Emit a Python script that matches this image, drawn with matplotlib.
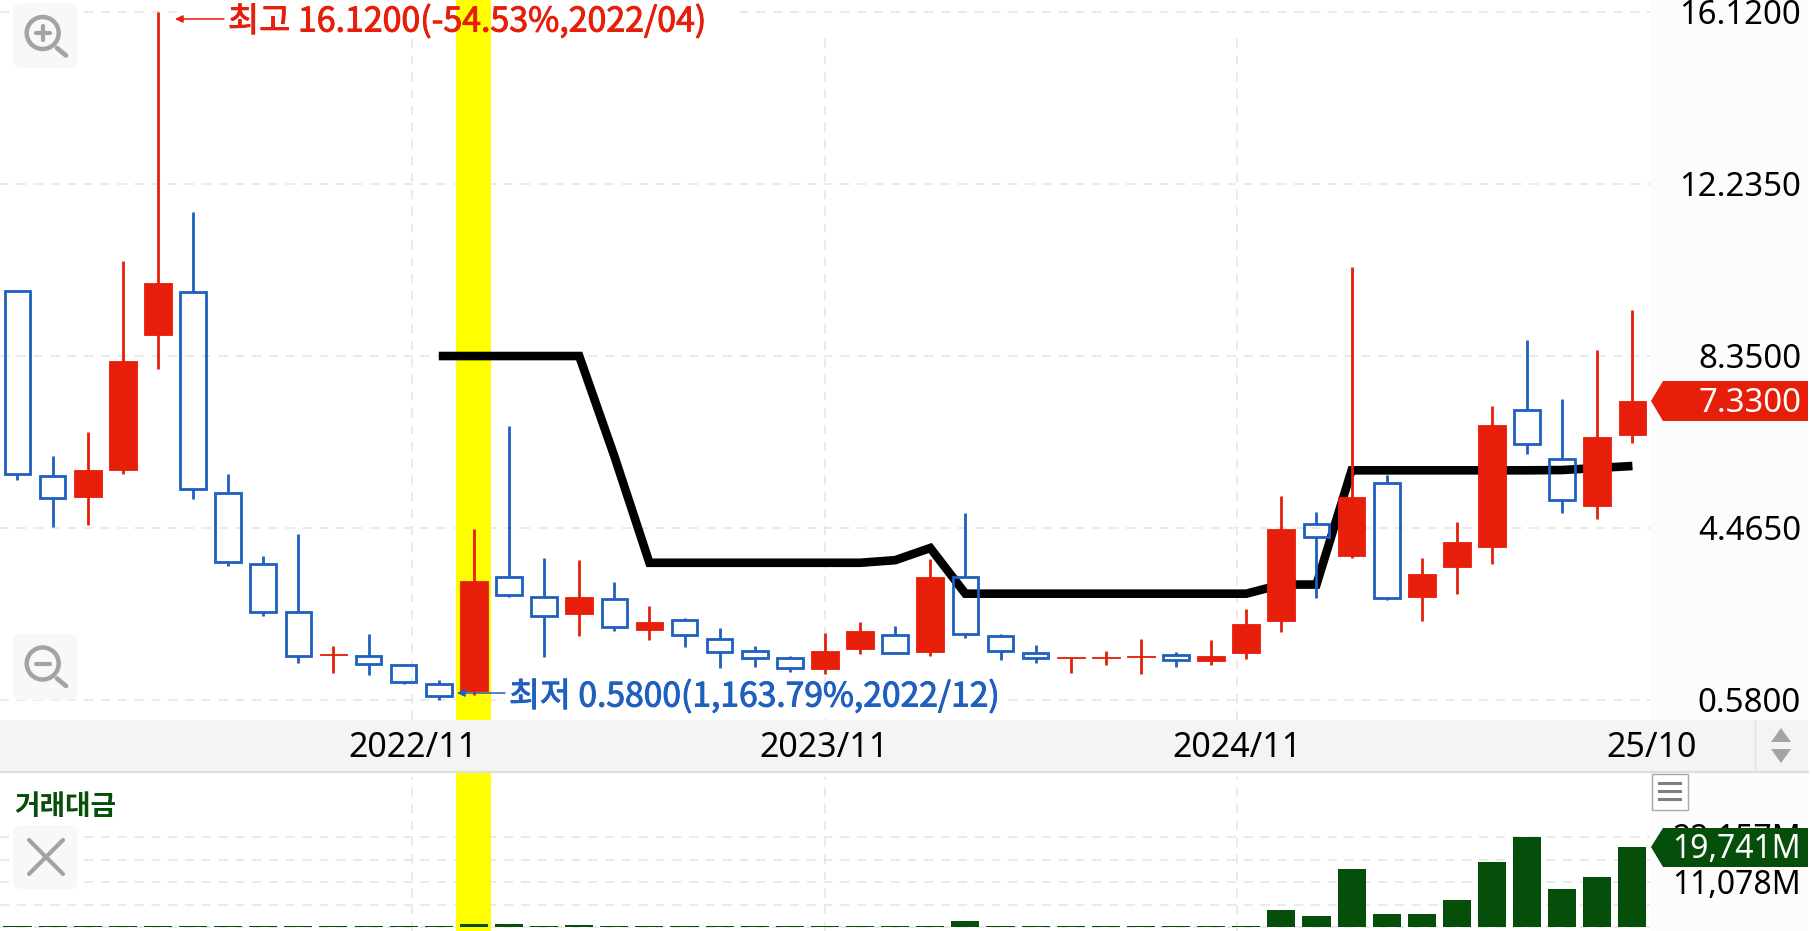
import matplotlib
matplotlib.use("Agg")
import matplotlib.pyplot as plt
import matplotlib.patheffects as pe
from matplotlib.patches import Rectangle, Polygon, FancyBboxPatch, Circle

W, H = 1812, 931
RED = "#e61e0a"; BLUE = "#1e5fc0"; GREEN = "#054f0b"; GRID = "#e4e4e4"; GRAY = "#a3a3a3"
KR = ["Noto Sans CJK KR", "DejaVu Sans"]
LAT = ["Noto Sans", "DejaVu Sans"]

# monthly candles, 2021/12 .. 2025/10
opens = [9.826, 5.643, 5.162, 5.781, 8.832, 9.796, 5.261, 3.655, 2.569, 1.590, 1.574, 1.368,
         0.932, 0.779, 3.349, 2.913, 2.515, 2.859, 2.171, 2.377, 1.949, 1.696, 1.536, 1.283,
         1.727, 2.056, 1.658, 3.356, 2.033, 1.643, 1.520, 1.520, 1.550, 1.589, 1.452, 1.651,
         2.370, 4.565, 3.831, 5.475, 2.914, 3.577, 4.044, 7.131, 6.024, 4.962, 6.558]
closes = [5.689, 5.139, 5.774, 8.237, 10.007, 5.353, 3.708, 2.561, 1.566, 1.620, 1.383, 0.993,
          0.679, 3.265, 2.959, 2.469, 2.897, 2.240, 2.347, 2.041, 1.674, 1.528, 1.298, 1.696,
          2.140, 1.651, 3.356, 2.079, 1.689, 1.521, 1.550, 1.550, 1.580, 1.482, 1.582, 2.293,
          4.450, 4.259, 5.162, 2.882, 3.419, 4.157, 6.792, 6.370, 5.098, 6.513, 7.330]
highs = [9.826, 6.087, 6.638, 10.496, 16.120, 11.603, 5.689, 3.838, 4.336, 1.804, 2.079, 1.368,
         1.023, 4.450, 6.760, 3.785, 3.739, 3.249, 2.706, 2.423, 2.209, 1.811, 1.582, 2.094,
         2.347, 2.247, 3.762, 4.795, 2.064, 1.819, 1.536, 1.681, 1.964, 1.658, 1.941, 2.637,
         5.192, 4.817, 10.361, 5.659, 3.788, 4.608, 7.229, 8.712, 7.387, 8.479, 9.382]
lows = [5.559, 4.488, 4.542, 5.689, 8.049, 5.116, 3.609, 2.477, 1.406, 1.199, 1.153, 0.947,
        0.580, 0.687, 2.898, 1.543, 2.033, 2.148, 1.941, 1.781, 1.314, 1.325, 1.207, 1.176,
        1.620, 1.651, 1.582, 1.987, 1.482, 1.421, 1.191, 1.375, 1.176, 1.329, 1.375, 1.513,
        2.125, 2.890, 3.792, 2.836, 2.372, 2.967, 3.660, 6.129, 4.797, 4.661, 6.393]
# black overlay line, from 2022/12
line_start = 12
line_vals = [8.35, 8.35, 8.35, 8.35, 8.35, 6.09, 3.68, 3.68, 3.68, 3.68, 3.68, 3.68, 3.68,
             3.739, 4.014, 2.982, 2.982, 2.982, 2.982, 2.982, 2.982, 2.982, 2.982, 2.982,
             3.188, 3.188, 5.768, 5.768, 5.768, 5.768, 5.768, 5.768, 5.775, 5.821, 5.866]
# traded value, millions
volumes = [300, 300, 300, 300, 420, 300, 300, 300, 300, 300, 300, 300,
           300, 750, 920, 300, 670, 300, 420, 400, 300, 300, 300, 300,
           300, 300, 420, 1500, 420, 400, 420, 330, 420, 300, 416, 330,
           4335, 2668, 14256, 3283, 3283, 6647, 16003, 22160, 9437, 12390, 19741]
price_ticks = [16.12, 12.235, 8.35, 4.465, 0.58]
price_labels = ["16.1200", "12.2350", "8.3500", "4.4650", "0.5800"]
vol_gridvals = [22157, 16618, 11078, 5539]
vgrid_pos = [11.25, 23.0, 34.75]
date_labels = ["2022/11", "2023/11", "2024/11", "25/10"]
date_pos = [11.25, 22.97, 34.73, 46.53]
highlight = 13

fig = plt.figure(figsize=(W / 100, H / 100), dpi=100, facecolor="white")


def axes_px(x0, y0, x1, y1, **kw):
    return fig.add_axes([x0 / W, 1 - y1 / H, (x1 - x0) / W, (y1 - y0) / H], **kw)


# chrome layer (pixel coordinates)
bg = axes_px(0, 0, W, H, zorder=0)
bg.set_xlim(0, W); bg.set_ylim(H, 0); bg.axis("off")
bg.add_patch(Rectangle((1650, 0), 158, H, fc="#fcfcfc", ec="none"))
bg.add_patch(Rectangle((0, 719.5), 1808, 52, fc="#f4f4f4", ec="none"))
bg.plot([0, 1808], [772, 772], color="#dddddd", lw=1.6)
bg.plot([1755, 1755], [719.5, 771], color="#e0e0e0", lw=1)

# price panel
XL = (-0.498, 46.50)
ax = axes_px(0, 0, 1650, 719.5, zorder=1)
ax.patch.set_alpha(0)
ax.set_xlim(*XL)
ax.set_ylim(0.14, 16.392)
ax.axis("off")
for v in price_ticks:
    ax.axhline(v, color=GRID, lw=1.1, ls=(0, (6, 5)), zorder=1)
for v in vgrid_pos:
    ax.plot([v, v], [0.14, 15.53], color=GRID, lw=1.1, ls=(0, (6, 5)), zorder=1)
ax.add_patch(Rectangle((4.6, 15.55), 15.8, 0.84, fc="white", ec="none", zorder=1.5))
ax.add_patch(Rectangle((13.9, 0.15), 14.2, 0.75, fc="white", ec="none", zorder=1.5))
ax.axvspan(highlight - 0.5, highlight + 0.5, color="#ffff00", lw=0, zorder=2)
ax.plot(range(line_start, line_start + len(line_vals)), line_vals, color="black", lw=6.2,
        solid_joinstyle="miter", solid_capstyle="butt", zorder=3)
for i, (o, c, h, l) in enumerate(zip(opens, closes, highs, lows)):
    top, bot = max(o, c), min(o, c)
    if c >= o:
        ax.vlines(i, l, h, color=RED, lw=2.0, zorder=4)
        ax.bar(i, top - bot, bottom=bot, width=0.79, color=RED, ec=RED, lw=0.6, zorder=5)
    else:
        ax.vlines(i, top, h, color=BLUE, lw=2.0, zorder=4)
        ax.vlines(i, l, bot, color=BLUE, lw=2.0, zorder=4)
        ax.bar(i, top - bot, bottom=bot, width=0.73, fill=False, ec=BLUE, lw=2.0, zorder=5)

# volume panel
vx = axes_px(0, 773, 1650, H, zorder=1)
vx.patch.set_alpha(0)
vx.set_xlim(*XL)
vx.set_ylim(-911, 37989)
vx.axis("off")
for v in vol_gridvals:
    vx.axhline(v, color=GRID, lw=1.1, ls=(0, (6, 5)), zorder=1)
vx.axhline(0, color=GRID, lw=1.1, ls=(0, (6, 5)), zorder=1)
for v in vgrid_pos:
    vx.plot([v, v], [-911, 37000], color=GRID, lw=1.1, ls=(0, (6, 5)), zorder=1)
vx.axvspan(highlight - 0.5, highlight + 0.5, color="#ffff00", lw=0, zorder=2)
vx.bar(range(len(volumes)), volumes, width=0.8, color=GREEN, zorder=3)

# overlay layer (pixel coordinates)
ui = axes_px(0, 0, W, H, zorder=5)
ui.patch.set_alpha(0)
ui.set_xlim(0, W); ui.set_ylim(H, 0); ui.axis("off")

for v, s in zip(price_ticks, price_labels):
    y = 700 - (v - 0.58) * 44.27
    ui.text(1801, y + 3, s, ha="right", va="center", family=LAT, fontsize=23.7, color="black")

ax_x = lambda v: 17.5 + 35.11 * v
for v, s in zip(date_pos, date_labels):
    ui.text(ax_x(v), 748, s, ha="center", va="center", family=LAT, fontsize=24.5, color="black")

# high / low callouts
ui.annotate("", xy=(175, 19), xytext=(224, 19),
            arrowprops=dict(arrowstyle="-|>,head_length=0.45,head_width=0.22", color=RED, lw=1.1, shrinkA=0, shrinkB=0))
ui.text(228, 22, "최고 16.1200(-54.53%,2022/04)", ha="left", va="center", family=KR, fontsize=24.4,
        color=RED, path_effects=[pe.withStroke(linewidth=0.7, foreground=RED)])
ui.annotate("", xy=(457, 693), xytext=(505, 693),
            arrowprops=dict(arrowstyle="-|>,head_length=0.45,head_width=0.22", color=BLUE, lw=1.1, shrinkA=0, shrinkB=0))
ui.text(509, 697, "최저 0.5800(1,163.79%,2022/12)", ha="left", va="center", family=KR, fontsize=24.2,
        color=BLUE, path_effects=[pe.withStroke(linewidth=0.7, foreground=BLUE)])

# price tags
ui.text(1801, 840, "22,157M", ha="right", va="center", family=LAT, fontsize=23, color="black")
ui.text(1801, 885, "11,078M", ha="right", va="center", family=LAT, fontsize=23, color="black")
ui.add_patch(Polygon([(1651, 401), (1663, 381), (1808, 381), (1808, 421), (1663, 421)], fc=RED, ec="none", zorder=3))
ui.text(1801, 403, "7.3300", ha="right", va="center", family=LAT, fontsize=23.7, color="white", zorder=4)
ui.add_patch(Polygon([(1651, 847), (1663, 828), (1808, 828), (1808, 867), (1663, 867)], fc=GREEN, ec="none", zorder=3))
ui.text(1801, 849, "19,741M", ha="right", va="center", family=LAT, fontsize=23, color="white", zorder=4)

ui.text(14, 807, "거래대금", ha="left", va="center", family=KR, fontsize=20, color=GREEN, fontweight="bold")

# icon buttons
for y0, y1 in [(3, 68), (634, 700), (825, 889)]:
    ui.add_patch(FancyBboxPatch((18, y0 + 5), 55, y1 - y0 - 10, boxstyle="round,pad=5,rounding_size=8",
                                fc="#f8f8f8", ec="none"))
for cy in (33, 663.5):
    ui.add_patch(Circle((42.7, cy), 16, fc="none", ec=GRAY, lw=3.2))
    ui.plot([57, 66], [cy + 15, cy + 22.5], color=GRAY, lw=3.4, solid_capstyle="round")
    ui.plot([35.5, 50], [cy, cy], color=GRAY, lw=3, solid_capstyle="round")
ui.plot([42.7, 42.7], [26, 40], color=GRAY, lw=3, solid_capstyle="round")
ui.plot([29, 63], [840, 874], color=GRAY, lw=3, solid_capstyle="round")
ui.plot([63, 29], [840, 874], color=GRAY, lw=3, solid_capstyle="round")

# scroll arrows and menu button
ui.add_patch(Polygon([(1781, 728), (1771, 742), (1791, 742)], fc=GRAY, ec="none"))
ui.add_patch(Polygon([(1771, 749), (1791, 749), (1781, 763)], fc=GRAY, ec="none"))
ui.add_patch(Rectangle((1651.5, 773.5), 36, 36, fc="white", ec="#a8a8a8", lw=1))
for y in (783, 791, 799):
    ui.plot([1659, 1680], [y, y], color="#808080", lw=2.2)

fig.savefig("out.png", dpi=100, facecolor="white")
